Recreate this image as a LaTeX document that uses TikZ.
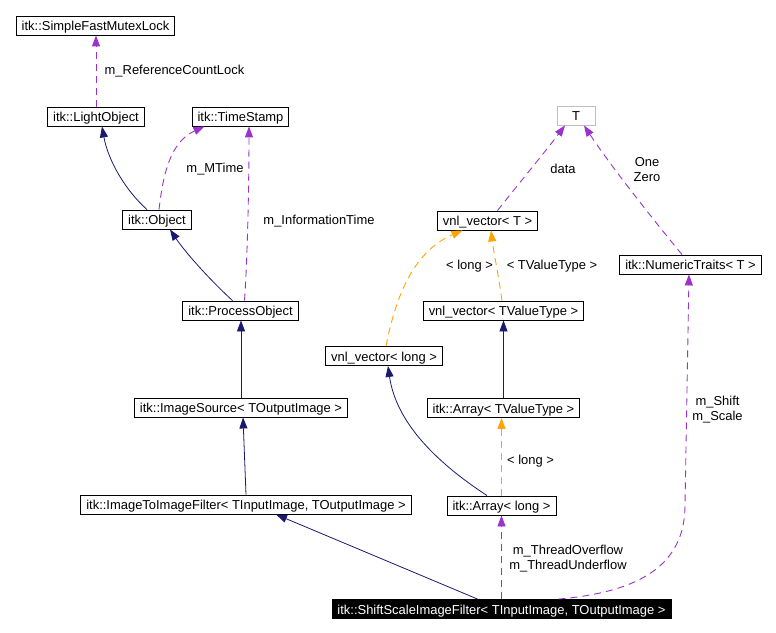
\documentclass[tikz,border=0pt]{standalone}
\usepackage{fontspec}
\setmainfont{Liberation Sans}
\usetikzlibrary{arrows.meta,calc}
\definecolor{navy}{HTML}{191970}
\definecolor{purp}{HTML}{9A32CD}
\definecolor{orng}{HTML}{FFA500}
\definecolor{gbord}{HTML}{BFBFBF}
\begin{document}
\begin{tikzpicture}[x=1bp,y=-1bp,
  cls/.style={draw=black, line width=0.9bp, inner xsep=5.5bp, inner ysep=0pt, text height=11bp, text depth=1bp, minimum height=19bp, font=\fontsize{13}{15}\selectfont, fill=white},
  tip/.style={-{Triangle[length=11bp,width=8bp]}},
  inh/.style={draw=navy, line width=0.8bp, tip},
  use/.style={draw=purp, line width=0.9bp, dash pattern=on 7bp off 5bp, tip},
  tmpl/.style={draw=orng, line width=0.9bp, dash pattern=on 7bp off 5bp, tip},
  lbl/.style={font=\fontsize{13}{15}\selectfont, align=center, inner sep=0pt}]
\useasboundingbox (0,0) rectangle (776,633);
% nodes
\node[cls] (sfml) at (95.5,25.5) {itk::SimpleFastMutexLock};
\node[cls] (light) at (96,116.5) {itk::LightObject};
\node[cls] (ts) at (240.5,116.5) {itk::TimeStamp};
\node[cls] (obj) at (157,219.5) {itk::Object};
\node[cls] (po) at (240.5,310.5) {itk::ProcessObject};
\node[cls] (isrc) at (241,407.5) {itk::ImageSource< TOutputImage >};
\node[cls] (i2i) at (246,504.5) {itk::ImageToImageFilter< TInputImage, TOutputImage >};
\node[cls, fill=black, text=white] (ssf) at (501.5,609) {itk::ShiftScaleImageFilter< TInputImage, TOutputImage >};
\node[cls] (vlong) at (384,356) {vnl\_vector< long >};
\node[cls] (along) at (501.5,505.5) {itk::Array< long >};
\node[cls] (atv) at (503.5,408) {itk::Array< TValueType >};
\node[cls] (vtv) at (503.5,310.5) {vnl\_vector< TValueType >};
\node[cls] (vt) at (487.5,220.5) {vnl\_vector< T >};
\node[cls, draw=gbord, minimum width=38bp] (t) at (576,115.5) {T};
\node[cls] (nt) at (690.5,264.5) {itk::NumericTraits< T >};
% edges
\draw[use] (light.north) -- (light.north |- sfml.south);
\draw[inh] ($(obj.north)+(-10,0)$) .. controls (125,190) and (108,160) .. ($(light.south)+(6,0)$);
\draw[use] ($(obj.north)+(2,0)$) .. controls (163,175) and (170,142) .. ($(ts.south)+(-36,0)$);
\draw[inh] ($(po.north)+(-8,0)$) .. controls (210,280) and (185,252) .. ($(obj.south)+(13,0)$);
\draw[use] ($(po.north)+(4,0)$) .. controls (248,250) and (249,170) .. ($(ts.south)+(8.5,0)$);
\draw[inh] (isrc.north) -- (isrc.north |- po.south);
\draw[inh] (i2i.north) -- ($(isrc.south)+(2,0)$);
\draw[inh] ($(ssf.north)+(-24,0)$) -- ($(i2i.south)+(30,0)$);
\draw[use] (ssf.north) -- (ssf.north |- along.south);
\draw[use] ($(ssf.north)+(57,0)$) .. controls (640,592) and (685,565) .. (685,505) -- ($(nt.south)+(-1.5,0)$);
\draw[inh] ($(along.north)+(-14.5,0)$) .. controls (425,455) and (395,415) .. ($(vlong.south)+(4,0)$);
\draw[tmpl] (along.north) -- (along.north |- atv.south);
\draw[inh] (atv.north) -- (atv.north |- vtv.south);
\draw[tmpl] ($(vtv.north)+(-1.5,0)$) .. controls (498,272) and (493,248) .. ($(vt.south)+(3.5,0)$);
\draw[tmpl] ($(vlong.north)+(2,0)$) .. controls (395,300) and (412,252) .. ($(vt.south)+(-25,0)$);
\draw[use] ($(vt.north)+(10,0)$) .. controls (520,182) and (545,152) .. ($(t.south)+(-11,0)$);
\draw[use] ($(nt.north)+(-8.5,0)$) .. controls (660,228) and (612,168) .. ($(t.south)+(8,0)$);
% labels
\node[lbl] (l1) at (174.5,71) {m\_ReferenceCountLock};
\node[lbl] (l2) at (215,169) {m\_MTime};
\node[lbl] (l3) at (319,221) {m\_InformationTime};
\node[lbl] (l4) at (563,169) {data};
\node[lbl] (l5) at (647,169.5) {One\\Zero};
\node[lbl] (l6) at (469.5,266) {< long >};
\node[lbl] (l7) at (552,266) {< TValueType >};
\node[lbl] (l8) at (530.5,461) {< long >};
\node[lbl] (l9) at (568,558.5) {m\_ThreadOverflow\\m\_ThreadUnderflow};
\node[lbl] (l10) at (717.5,409.5) {m\_Shift\\m\_Scale};
\end{tikzpicture}
\end{document}
